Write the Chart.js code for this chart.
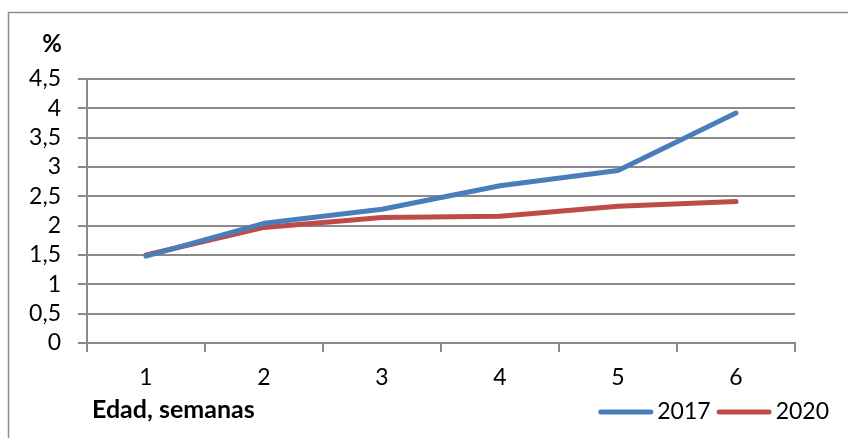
<!DOCTYPE html>
<html>
<head>
<meta charset="utf-8">
<script src="https://cdn.jsdelivr.net/npm/chart.js@4"></script>
<style>
  html, body { margin: 0; padding: 0; background: #ffffff; }
  canvas { display: block; }
</style>
</head>
<body>
<canvas id="chart" width="848" height="438"></canvas>
<script>
// Weekly age categories and the share (%) per year
const weeks = ['1', '2', '3', '4', '5', '6'];
const values2017 = [1.48, 2.04, 2.28, 2.68, 2.94, 3.92];
const values2020 = [1.50, 1.97, 2.14, 2.16, 2.33, 2.41];
const seriesNames = ['2017', '2020'];
const yTickLabels = ['0', '0,5', '1', '1,5', '2', '2,5', '3', '3,5', '4', '4,5'];
const yAxisTitle = '%';
const xAxisTitle = 'Edad, semanas';

const FONT = 'Lato, "Open Sans", "DejaVu Sans", sans-serif';
const GRID = '#8a8a8a';
const BLUE = '#4a7ebb';
const RED = '#be4b48';

// Frame, axis captions and legend drawn around the plot
const decorations = {
  id: 'decorations',
  beforeDraw(chart) {
    const ctx = chart.ctx;
    ctx.save();
    ctx.fillStyle = '#ffffff';
    ctx.fillRect(0, 0, chart.width, chart.height);
    ctx.strokeStyle = '#8c8c8c';
    ctx.lineWidth = 1.5;
    ctx.beginPath();
    ctx.moveTo(8.5, chart.height);
    ctx.lineTo(8.5, 12.5);
    ctx.lineTo(chart.width, 12.5);
    ctx.stroke();
    ctx.restore();
  },
  afterDraw(chart) {
    const ctx = chart.ctx;
    ctx.save();
    ctx.fillStyle = '#000000';
    ctx.font = 'bold 24px ' + FONT;
    ctx.textBaseline = 'middle';
    ctx.textAlign = 'right';
    ctx.fillText(yAxisTitle, 62, 44);
    ctx.font = 'bold 25px ' + FONT;
    ctx.textAlign = 'left';
    ctx.textBaseline = 'alphabetic';
    ctx.fillText(xAxisTitle, 92, 418);

    // legend, laid out from the right edge
    ctx.font = '23px ' + FONT;
    ctx.textBaseline = 'middle';
    const lineLen = 50, cap = 2.5, gap = 4, spacing = 6, y = 412;
    let right = 829;
    const items = chart.data.datasets.map(d => ({ text: d.label, color: d.borderColor }));
    for (let i = items.length - 1; i >= 0; i--) {
      const it = items[i];
      const tw = ctx.measureText(it.text).width;
      const textX = right - tw;
      ctx.fillStyle = '#000000';
      ctx.textAlign = 'left';
      ctx.fillText(it.text, textX, y);
      const lineEnd = textX - gap - cap;
      const lineStart = lineEnd - lineLen;
      ctx.strokeStyle = it.color;
      ctx.lineWidth = 5;
      ctx.lineCap = 'round';
      ctx.beginPath();
      ctx.moveTo(lineStart, y);
      ctx.lineTo(lineEnd, y);
      ctx.stroke();
      right = lineStart - cap - spacing;
    }
    ctx.restore();
  }
};

new Chart(document.getElementById('chart'), {
  type: 'line',
  data: {
    labels: weeks,
    datasets: [
      { label: seriesNames[0], data: values2017, borderColor: BLUE, backgroundColor: BLUE },
      { label: seriesNames[1], data: values2020, borderColor: RED, backgroundColor: RED }
    ]
  },
  options: {
    responsive: false,
    animation: false,
    devicePixelRatio: 1,
    layout: { padding: { top: 79, right: 53, bottom: 0, left: 0 } },
    plugins: { legend: { display: false }, tooltip: { enabled: false } },
    elements: {
      point: { radius: 0, hoverRadius: 0 },
      line: { tension: 0, borderWidth: 5, borderCapStyle: 'round', borderJoinStyle: 'round', fill: false }
    },
    scales: {
      x: {
        offset: true,
        grid: { offset: true, drawOnChartArea: false, drawTicks: true, tickLength: 9, color: GRID, lineWidth: 2 },
        border: { display: true, color: GRID, width: 2 },
        ticks: { padding: 12, autoSkip: false, color: '#000000', font: { family: FONT, size: 23 }, maxRotation: 0 },
        afterFit(scale) { scale.height = 95; }
      },
      y: {
        min: 0,
        max: 4.5,
        grid: { color: GRID, lineWidth: 2, tickLength: 9 },
        border: { display: true, color: GRID, width: 2 },
        ticks: {
          stepSize: 0.5,
          autoSkip: false,
          padding: 17,
          color: '#000000',
          font: { family: FONT, size: 23 },
          callback: (v, i) => yTickLabels[i]
        },
        afterFit(scale) { scale.width = 87; }
      }
    }
  },
  plugins: [decorations]
});
</script>
</body>
</html>
